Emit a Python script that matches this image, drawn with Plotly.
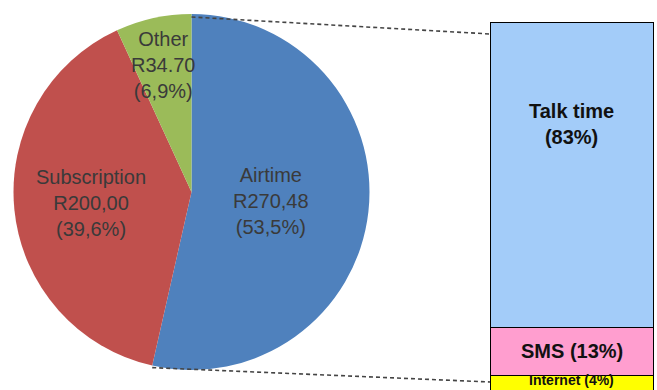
import math
import plotly.graph_objects as go

W, H = 657, 390

# Monthly cellphone spend (pie)
spend_labels = ["Airtime", "Subscription", "Other"]
spend_values = [270.48, 200.00, 34.70]
spend_amounts = ["R270,48", "R200,00", "R34.70"]
spend_pcts = ["(53,5%)", "(39,6%)", "(6,9%)"]
spend_colors = ["#4F81BD", "#C0504D", "#9BBB59"]

# How the airtime is used (stacked bar, top to bottom)
usage_labels = ["Talk time", "SMS", "Internet"]
usage_pcts = [83, 13, 4]
usage_colors = ["#A3CCF9", "#FF9ECF", "#FFFF00"]

FONT = "Liberation Sans, Arial, sans-serif"

# Pie geometry in pixels
pie_left, pie_right, pie_top, pie_bottom = 13, 370, 14, 370
cx = (pie_left + pie_right) / 2
cy = (pie_top + pie_bottom) / 2
r = (pie_bottom - pie_top) / 2

# Bar geometry in pixels
bar_left, bar_top = 490, 22


def px(x):
    return x / W


def py(y):
    return 1 - y / H


fig = go.Figure()

fig.add_trace(go.Pie(
    labels=spend_labels,
    values=spend_values,
    sort=False,
    direction="clockwise",
    rotation=0,
    marker=dict(colors=spend_colors, line=dict(width=0)),
    textinfo="none",
    hoverinfo="label+value+percent",
    showlegend=False,
    domain=dict(x=[px(pie_left), px(pie_right)], y=[py(pie_bottom), py(pie_top)]),
))

# Stacked bar: bottom segment first
for lab, val, col in reversed(list(zip(usage_labels, usage_pcts, usage_colors))):
    fig.add_trace(go.Bar(
        x=[0], y=[val], name=lab, width=1,
        marker=dict(color=col, line=dict(color="#000000", width=1)),
        showlegend=False, hoverinfo="name+y",
    ))

annotations = []

# Slice labels placed along each slice's bisector
total = sum(spend_values)
radial_frac = [0.45, 0.57, 0.73]
start = 0.0
slice_angles = []
for lab, val, amt, pct, f in zip(spend_labels, spend_values, spend_amounts, spend_pcts, radial_frac):
    a0 = start / total * 2 * math.pi
    a1 = (start + val) / total * 2 * math.pi
    slice_angles.append((a0, a1))
    mid = (a0 + a1) / 2
    lx = cx + r * f * math.sin(mid)
    ly = cy - r * f * math.cos(mid)
    annotations.append(dict(
        x=px(lx), y=py(ly), xref="paper", yref="paper",
        text=f"{lab}<br>{amt}<br>{pct}", showarrow=False,
        font=dict(family=FONT, size=20, color="#3A3A3A"),
        xanchor="center", yanchor="middle", align="center",
    ))
    start += val

# Bar segment labels
tops = []
acc = 0
for val in reversed(usage_pcts):
    acc += val
    tops.append(acc)
tops = list(reversed(tops))  # top of each segment, in usage order
label_texts = [
    f"<b>{usage_labels[0]}<br>({usage_pcts[0]}%)</b>",
    f"<b>{usage_labels[1]} ({usage_pcts[1]}%)</b>",
    f"<b>{usage_labels[2]} ({usage_pcts[2]}%)</b>",
]
for i, (txt, top, val) in enumerate(zip(label_texts, tops, usage_pcts)):
    if i == 0:
        # upper third of the tall segment
        ann = dict(y=top - val / 3, yanchor="middle", size=20)
    elif i == 1:
        ann = dict(y=top - val / 2, yanchor="middle", size=20)
    else:
        # thin bottom segment: sit the text on the base
        ann = dict(y=top - val, yanchor="bottom", size=14)
    annotations.append(dict(
        x=0, y=ann["y"], xref="x", yref="y",
        text=txt, showarrow=False,
        font=dict(family=FONT, size=ann["size"], color="#111111"),
        xanchor="center", yanchor=ann["yanchor"], align="center",
    ))

# Dashed connectors from the pie to the bar
airtime_end = slice_angles[0][1]
p_top = (cx, pie_top + 3)
p_bot = (cx + r * math.sin(airtime_end), cy - r * math.cos(airtime_end) + 2)
connectors = [
    (p_top, (bar_left, 34)),
    (p_bot, (bar_left, 382)),
]
shapes = []
for (x0, y0), (x1, y1) in connectors:
    shapes.append(dict(
        type="line", xref="paper", yref="paper",
        x0=px(x0), y0=py(y0), x1=px(x1), y1=py(y1),
        line=dict(color="#444444", width=1.6, dash="4px,3px"),
    ))

fig.update_layout(
    width=W, height=H,
    margin=dict(l=0, r=0, t=0, b=0),
    paper_bgcolor="white", plot_bgcolor="white",
    barmode="stack",
    xaxis=dict(domain=[px(bar_left), 1], range=[-0.5, 0.52], visible=False, fixedrange=True),
    yaxis=dict(domain=[0, py(bar_top)], range=[0, 100], visible=False, fixedrange=True),
    annotations=annotations,
    shapes=shapes,
)

fig.write_html("out.html")
